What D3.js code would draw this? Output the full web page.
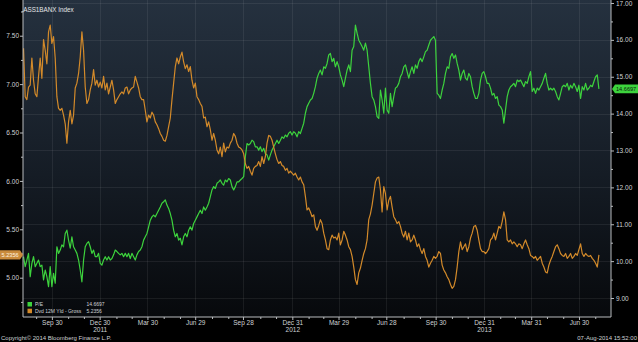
<!DOCTYPE html>
<html><head><meta charset="utf-8">
<script src="https://cdn.jsdelivr.net/npm/d3@7"></script>
<style>
html,body{margin:0;padding:0;background:#000;}
svg{display:block;font-family:"Liberation Sans",Arial,sans-serif;}
</style></head><body>
<svg id="chart" width="638" height="342"></svg>
<script>
// ---------------- data ----------------
const title = ".ASS1BANX Index";
const seriesNames = ["P/E", "Dvd 12M Yld - Gross"];
const lastValues = [14.6697, 5.2356];
const firstDate = "2011-08-07";
const lastDate = "2014-08-07";

// P/E (right axis), sampled evenly from firstDate to lastDate
const peValues = [
10.12,9.85,10.03,10.21,9.58,9.94,10.12,9.85,9.94,10.03,
9.85,9.89,9.49,9.76,9.58,9.31,9.85,9.31,9.67,9.40,
10.39,10.21,10.30,10.44,10.39,10.75,10.84,10.57,10.35,10.66,
10.39,10.30,10.21,10.03,9.76,9.44,10.03,10.39,10.48,10.53,
10.39,10.21,10.30,10.12,10.12,10.21,9.94,9.89,10.03,10.12,
10.03,10.12,10.03,10.07,10.17,10.30,10.26,10.21,10.17,10.21,
10.12,10.21,10.12,10.21,10.07,10.21,10.12,10.03,10.17,10.26,
10.30,10.39,10.57,10.66,10.75,10.93,11.11,11.20,11.25,11.20,
11.29,11.38,11.47,11.57,11.61,11.66,11.52,11.43,11.29,11.11,
10.84,10.66,10.75,10.57,10.62,10.44,10.66,10.75,10.66,10.84,
10.93,10.84,11.02,11.11,11.20,11.29,11.38,11.29,11.47,11.38,
11.47,11.57,11.75,11.93,12.02,11.97,12.11,12.15,12.20,12.11,
12.06,12.20,12.15,12.24,12.20,12.02,11.93,12.02,12.15,12.15,
12.20,12.24,12.29,12.83,13.19,13.15,13.19,13.28,13.24,13.10,
13.10,13.01,13.10,12.97,13.06,12.92,12.88,12.74,12.88,13.01,
13.10,13.19,13.28,13.19,13.28,13.37,13.33,13.42,13.37,13.47,
13.51,13.42,13.51,13.47,13.37,13.51,13.46,13.60,13.74,14.01,
14.19,14.28,14.37,14.41,14.55,14.73,14.96,15.09,15.18,
15.05,15.27,15.23,15.36,15.59,15.63,15.41,15.50,15.27,15.41,
15.27,15.05,14.91,14.73,14.96,15.18,15.32,15.14,15.72,15.82,
16.40,16.18,15.99,15.91,15.82,15.72,15.91,15.72,15.27,14.82,
14.46,14.37,14.19,13.92,13.87,14.64,14.37,14.01,14.69,14.10,
14.01,14.55,14.19,14.46,14.69,14.73,14.82,15.00,15.09,15.27,
15.32,15.14,14.96,15.14,15.27,15.09,15.32,15.23,15.41,15.50,
15.41,15.54,15.68,15.72,15.86,15.99,16.04,16.09,15.99,14.55,
14.50,14.41,14.64,14.82,15.09,15.27,15.23,15.54,15.63,15.50,
15.59,
15.36,15.18,14.91,15.09,15.18,14.96,14.91,15.09,15.00,14.73,
14.55,14.41,14.41,14.55,14.91,15.09,15.14,15.00,14.82,14.82,
14.69,14.50,14.55,14.41,14.46,14.23,14.19,14.10,13.74,14.10,
14.46,14.64,14.73,14.77,14.82,14.73,14.91,14.87,14.91,14.82,
14.73,14.87,14.82,15.00,15.14,14.60,14.69,14.55,14.69,14.64,
14.73,14.82,14.96,15.09,14.82,14.64,14.69,14.64,14.69,14.60,
14.46,14.37,14.55,14.73,14.77,14.73,14.82,14.64,14.77,14.69,
14.82,14.73,14.60,14.77,14.41,14.73,14.64,14.82,14.64,14.69,
14.77,14.73,14.87,15.00,15.05,14.6697
];

// Dividend 12M yield gross (left axis), same sampling
const yieldValues = [
7.37,6.87,6.84,6.97,6.99,7.27,7.04,6.90,6.87,7.08,
7.27,7.06,7.46,7.35,7.21,7.54,7.61,7.42,7.49,7.27,
6.87,6.75,6.73,6.75,6.68,6.59,6.39,6.61,6.73,6.59,
6.68,6.96,7.01,7.11,7.28,7.54,7.35,6.97,6.80,6.84,
6.94,7.01,7.15,6.99,7.04,6.97,7.02,6.96,7.08,6.94,
7.01,6.90,6.97,7.04,6.94,6.80,6.84,6.87,6.90,6.92,
6.90,6.96,6.97,6.90,6.94,6.96,6.97,7.08,7.02,6.96,
6.87,6.84,6.84,6.73,6.61,6.68,6.65,6.71,6.68,6.61,
6.58,6.54,6.49,6.46,6.42,6.41,6.47,6.56,6.65,6.84,
7.01,7.18,7.27,7.21,7.28,7.33,7.23,7.16,7.20,7.13,
7.18,7.04,6.96,7.01,6.87,6.84,6.80,6.77,6.65,6.66,
6.56,6.61,6.53,6.42,6.49,6.42,6.32,6.28,6.35,6.25,
6.39,6.30,6.35,6.34,6.39,6.42,6.49,6.46,6.39,6.35,
6.34,6.32,6.28,6.18,6.13,6.15,6.10,6.06,6.13,6.15,
6.16,6.20,6.15,6.25,6.18,6.25,6.39,6.47,6.46,6.42,
6.35,6.28,6.22,6.18,6.20,6.16,6.15,6.11,6.13,6.08,
6.10,6.08,6.06,6.08,6.04,6.01,6.04,5.99,5.96,5.84,
5.70,5.72,5.68,5.63,5.65,5.53,5.49,5.54,5.60,
5.56,5.46,5.39,5.30,5.29,5.39,5.44,5.41,5.42,5.39,
5.46,5.34,5.39,5.48,5.44,5.39,5.32,5.29,5.22,5.11,
4.98,4.93,5.05,5.10,5.18,5.25,5.30,5.39,5.60,5.66,
5.75,5.87,5.99,6.03,6.04,5.91,5.68,5.94,5.87,5.70,
5.80,5.84,5.73,5.63,5.60,5.56,5.58,5.53,5.46,5.42,
5.48,5.39,5.46,5.37,5.39,5.44,5.39,5.32,5.35,5.29,
5.25,5.30,5.22,5.18,5.11,5.15,5.18,5.22,5.20,5.22,
5.27,5.25,5.13,5.08,5.05,5.01,4.98,4.93,4.89,4.91,
4.98,
5.11,5.27,5.37,5.29,5.32,5.35,5.27,5.32,5.41,5.46,
5.53,5.54,5.49,5.39,5.30,5.27,5.27,5.25,5.27,5.30,
5.39,5.41,5.46,5.39,5.46,5.53,5.51,5.58,5.68,5.60,
5.39,5.37,5.39,5.35,5.37,5.35,5.32,5.35,5.34,5.30,
5.35,5.39,5.34,5.30,5.23,5.22,5.20,5.22,5.18,5.20,
5.22,5.15,5.11,5.06,5.05,5.13,5.18,5.22,5.27,5.32,
5.34,5.30,5.25,5.23,5.22,5.25,5.20,5.22,5.25,5.20,
5.22,5.25,5.23,5.29,5.35,5.25,5.22,5.25,5.23,5.22,
5.23,5.20,5.18,5.15,5.11,5.2356
];

const xTickDates = ["2011-09-30","2011-12-30","2012-03-30","2012-06-29","2012-09-28","2012-12-31",
                    "2013-03-29","2013-06-28","2013-09-30","2013-12-31","2014-03-31","2014-06-30"];
const xTickLabels = ["Sep 30","Dec 30","Mar 30","Jun 29","Sep 28","Dec 31",
                     "Mar 29","Jun 28","Sep 30","Dec 31","Mar 31","Jun 30"];
const xYearLabels = ["","2011","","","","2012","","","","2013","",""];
const leftTicks = [7.50,7.00,6.50,6.00,5.50,5.00];
const leftMinorTicks = [7.75,7.25,6.75,6.25,5.75,5.25,4.75];
const rightTicks = [17,16,15,14,13,12,11,10,9];
const rightMinorTicks = [16.5,15.5,14.5,13.5,12.5,11.5,10.5,9.5];
const footerLeft = "Copyright\u00A9 2014 Bloomberg Finance L.P.";
const footerRight = "07-Aug-2014 15:52:00";

// ---------------- layout ----------------
const W = 638, H = 342;
const plot = {left: 23, right: 611, top: 0, bottom: 317};
const colGreen = "#3dd33d", colOrange = "#d38a2a";
const textCol = "#cfd2d5", axisCol = "#b9bcbf";
const parse = d3.timeParse("%Y-%m-%d");

const x = d3.scaleTime().domain([parse("2011-08-06"), parse("2014-08-30")]).range([plot.left, plot.right]);
const yL = d3.scaleLinear().domain([4.594, 7.869]).range([plot.bottom, plot.top]);
const yR = d3.scaleLinear().domain([8.485, 17.081]).range([plot.bottom, plot.top]);

const t0 = parse(firstDate), t1 = parse(lastDate);
const n = peValues.length;
const dates = d3.range(n).map(i => new Date(+t0 + i * (t1 - t0) / (n - 1)));

const svg = d3.select("#chart");
svg.append("rect").attr("width", W).attr("height", H).attr("fill", "#000");

const defs = svg.append("defs");
const grad = defs.append("linearGradient").attr("id", "bg").attr("x1", 0).attr("y1", 0).attr("x2", 0).attr("y2", 1);
grad.append("stop").attr("offset", "0%").attr("stop-color", "#25313f");
grad.append("stop").attr("offset", "55%").attr("stop-color", "#151c25");
grad.append("stop").attr("offset", "100%").attr("stop-color", "#07090c");
defs.append("clipPath").attr("id", "clip").append("rect")
  .attr("x", plot.left).attr("y", plot.top).attr("width", plot.right - plot.left).attr("height", plot.bottom - plot.top);

svg.append("rect").attr("x", plot.left).attr("y", plot.top)
  .attr("width", plot.right - plot.left).attr("height", plot.bottom - plot.top).attr("fill", "url(#bg)");

// gridlines
const grid = svg.append("g").attr("stroke", "#ffffff").attr("stroke-opacity", 0.07).attr("stroke-width", 1);
xTickDates.forEach(d => {
  const xx = Math.round(x(parse(d))) + 0.5;
  grid.append("line").attr("x1", xx).attr("x2", xx).attr("y1", plot.top).attr("y2", plot.bottom);
});
rightTicks.forEach(v => {
  const yy = Math.round(yR(v)) + 0.5;
  grid.append("line").attr("x1", plot.left).attr("x2", plot.right).attr("y1", yy).attr("y2", yy);
});

// lines
const gLines = svg.append("g").attr("clip-path", "url(#clip)");
gLines.append("path").datum(peValues)
  .attr("fill", "none").attr("stroke", colGreen).attr("stroke-width", 1.2).attr("stroke-linejoin", "round")
  .attr("d", d3.line().x((d, i) => x(dates[i])).y(d => yR(d)));
gLines.append("path").datum(yieldValues)
  .attr("fill", "none").attr("stroke", colOrange).attr("stroke-width", 1.2).attr("stroke-linejoin", "round")
  .attr("d", d3.line().x((d, i) => x(dates[i])).y(d => yL(d)));

function styleAxis(g) {
  g.select(".domain").attr("stroke", axisCol);
  g.selectAll(".tick line").attr("stroke", axisCol);
  g.selectAll(".tick text").attr("fill", textCol).attr("font-size", "6.5px");
}

// left axis
const gL = svg.append("g").attr("transform", `translate(${plot.left},0)`)
  .call(d3.axisLeft(yL).tickValues(leftTicks).tickSize(3).tickPadding(1).tickFormat(d3.format(".2f")).tickSizeOuter(0));
styleAxis(gL);
gL.select(".domain").attr("d", `M0,${plot.top}V${plot.bottom}`);
const gLm = svg.append("g").attr("transform", `translate(${plot.left},0)`)
  .call(d3.axisLeft(yL).tickValues(leftMinorTicks).tickSize(2).tickFormat(""));
gLm.select(".domain").remove(); styleAxis(gLm);

// right axis
const gR = svg.append("g").attr("transform", `translate(${plot.right},0)`)
  .call(d3.axisRight(yR).tickValues(rightTicks).tickSize(3).tickPadding(2).tickFormat(d3.format(".2f")).tickSizeOuter(0));
styleAxis(gR);
gR.select(".domain").attr("d", `M0,${plot.top}V${plot.bottom}`);
const gRm = svg.append("g").attr("transform", `translate(${plot.right},0)`)
  .call(d3.axisRight(yR).tickValues(rightMinorTicks).tickSize(2).tickFormat(""));
gRm.select(".domain").remove(); styleAxis(gRm);

// bottom axis
const gB = svg.append("g").attr("transform", `translate(0,${plot.bottom})`)
  .call(d3.axisBottom(x).tickValues(xTickDates.map(parse)).tickSize(3).tickPadding(0)
    .tickFormat((d, i) => xTickLabels[i]).tickSizeOuter(0));
styleAxis(gB);
gB.select(".domain").attr("d", `M${plot.left},0H${plot.right}`);
gB.selectAll(".tick").append("text")
  .attr("y", 15).attr("fill", textCol).attr("font-size", "6.5px").attr("text-anchor", "middle")
  .text((d, i) => xYearLabels[i]);
const monthEnds = d3.timeMonth.range(parse("2011-08-01"), parse("2014-08-01"))
  .map(d => d3.timeDay.offset(d3.timeMonth.offset(d, 1), -1))
  .filter(d => ![2,5,8,11].includes(d.getMonth()));
const gBm = svg.append("g").attr("transform", `translate(0,${plot.bottom})`)
  .call(d3.axisBottom(x).tickValues(monthEnds).tickSize(2).tickFormat(""));
gBm.select(".domain").remove(); styleAxis(gBm);

// title
svg.append("text").attr("x", 21.5).attr("y", 12).attr("fill", "#e4e6e8").attr("font-size", "6.3px").text(title);

// legend
const legend = svg.append("g").attr("font-size", "5px").attr("fill", textCol);
[colGreen, colOrange].forEach((c, i) => {
  const yy = 302 + i * 6.7;
  legend.append("rect").attr("x", 27.5).attr("y", yy).attr("width", 4.5).attr("height", 4.5).attr("fill", c);
  legend.append("text").attr("x", 35).attr("y", yy + 4.3).text(seriesNames[i]);
  legend.append("text").attr("x", 86.5).attr("y", yy + 4.3).text(d3.format(".4f")(lastValues[i]));
});

// last value tags
const yG = yR(lastValues[0]);
svg.append("path").attr("d", `M${plot.right + 1},${yG} L${plot.right + 4},${yG - 4.3} H${W} V${yG + 4.3} H${plot.right + 4} Z`)
  .attr("fill", colGreen);
svg.append("text").attr("x", plot.right + 5).attr("y", yG + 2).attr("font-size", "5.6px").attr("fill", "#0b1a0b")
  .text(d3.format(".4f")(lastValues[0]));
const yO = yL(lastValues[1]);
svg.append("path").attr("d", `M0,${yO - 4.6} H${plot.left - 3} L${plot.left},${yO} L${plot.left - 3},${yO + 4.6} H0 Z`)
  .attr("fill", "#c98a3c");
svg.append("text").attr("x", 1.5).attr("y", yO + 2).attr("font-size", "5.6px").attr("fill", "#fff4e0")
  .text(d3.format(".4f")(lastValues[1]));

// footer
svg.append("text").attr("x", 1).attr("y", 340).attr("font-size", "6px").attr("fill", textCol).text(footerLeft);
svg.append("text").attr("x", 637).attr("y", 340).attr("font-size", "6px").attr("fill", textCol)
  .attr("text-anchor", "end").text(footerRight);
</script>
</body></html>
